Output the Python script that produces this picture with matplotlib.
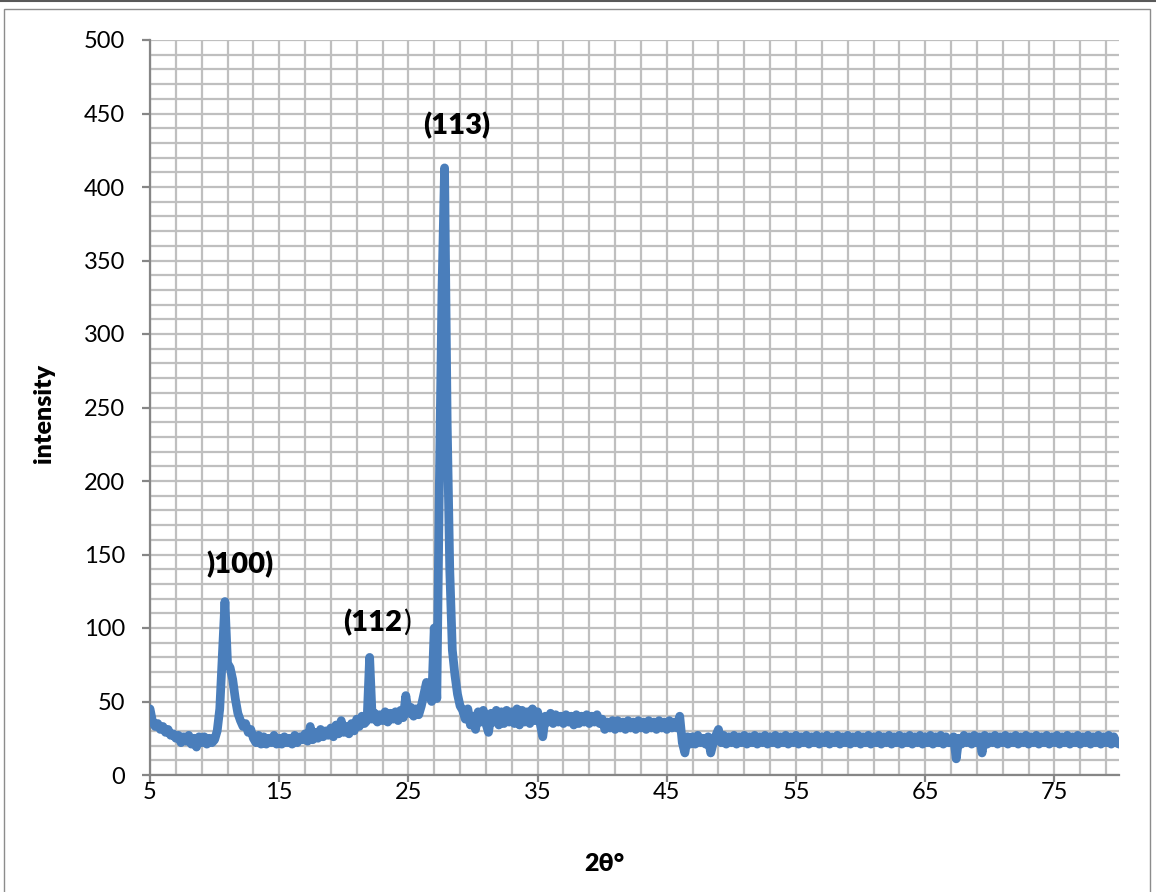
import numpy as np
import matplotlib
matplotlib.use("Agg")
import matplotlib.pyplot as plt
from matplotlib.patches import Rectangle

plt.rcParams['font.family'] = ['Lato', 'DejaVu Sans']

# scan from 5 to 80 deg, one reading every 0.2 deg
two_theta = np.round(np.arange(5.0, 80.0001, 0.2), 1)
intensity = [
    45, 36, 33, 35, 31, 33, 29, 31, 27, 28,        # 5
    25, 27, 22, 26, 23, 27, 21, 25, 19, 26,        # 7
    22, 26, 21, 25, 22, 24, 30, 45, 82, 118,       # 9
    76, 73, 65, 52, 42, 37, 33, 35, 29, 31,        # 11
    25, 22, 27, 21, 26, 21, 25, 22, 27, 21,        # 13
    25, 21, 26, 22, 25, 21, 27, 22, 26, 24,        # 15
    28, 23, 33, 24, 29, 25, 31, 26, 30, 27,        # 17
    32, 26, 34, 28, 37, 29, 33, 28, 35, 30,        # 19
    38, 33, 40, 35, 37, 80, 38, 42, 36, 41,        # 21
    37, 43, 36, 42, 38, 43, 37, 44, 39, 54,        # 23
    42, 46, 40, 45, 41, 47, 55, 63, 56, 50,        # 25
    100, 52, 200, 330, 413, 240, 140, 85, 68, 55,  # 27
    47, 44, 38, 45, 34, 40, 31, 43, 36, 44,        # 29
    35, 29, 42, 36, 44, 34, 43, 35, 44, 36,        # 31
    43, 35, 45, 34, 44, 36, 43, 35, 45, 37,        # 33
    43, 35, 26, 40, 36, 42, 35, 41, 36, 40,        # 35
    35, 41, 36, 40, 34, 41, 35, 40, 36, 41,        # 37
    35, 40, 36, 41, 35, 38, 31, 36, 32, 37,        # 39
    31, 37, 32, 36, 31, 37, 32, 36, 31, 37,        # 41
    32, 36, 31, 37, 32, 36, 31, 37, 32, 36,        # 43
    31, 37, 32, 36, 32, 40, 22, 15, 26, 21,        # 45
    26, 21, 27, 22, 25, 21, 26, 15, 22, 27,        # 47
    31, 22, 27, 21, 26, 22, 27, 21, 26, 22,        # 49
    27, 21, 26, 22, 27, 21, 26, 22, 27, 21,        # 51
    26, 22, 27, 21, 26, 22, 27, 21, 26, 22,        # 53
    27, 21, 26, 22, 27, 21, 26, 22, 27, 21,        # 55
    26, 22, 27, 21, 26, 22, 27, 21, 26, 22,        # 57
    27, 21, 26, 22, 27, 21, 26, 22, 27, 21,        # 59
    26, 22, 27, 21, 26, 22, 27, 21, 26, 22,        # 61
    27, 21, 26, 22, 27, 21, 26, 22, 27, 21,        # 63
    26, 22, 27, 21, 26, 22, 27, 21, 26, 22,        # 65
    22, 26, 11, 25, 21, 27, 22, 26, 21, 27,        # 67
    22, 26, 15, 27, 21, 26, 22, 27, 21, 26,        # 69
    22, 27, 21, 26, 22, 27, 21, 26, 22, 27,        # 71
    21, 26, 22, 27, 21, 26, 22, 27, 21, 26,        # 73
    22, 27, 21, 26, 22, 27, 21, 26, 22, 27,        # 75
    21, 26, 22, 27, 21, 26, 22, 27, 21, 26,        # 77
    22, 27, 21, 26, 22, 21,                        # 79
]

x_major = [5, 15, 25, 35, 45, 55, 65, 75]
y_major = list(range(0, 501, 50))

# peak labels: (text, x, y)
peak_labels = [(')100)', 12.0, 143), ('(113)', 28.75, 442)]

blue = '#4a7ebb'
grid_col = '#bfbfbf'
axis_col = '#868686'

fig = plt.figure(figsize=(11.56, 8.92), dpi=100)
ax = fig.add_axes([150 / 1156, 1 - 775 / 892, (1119 - 150) / 1156, 735 / 892])

ax.plot(two_theta, intensity, color=blue, lw=6.3,
        solid_joinstyle='round', solid_capstyle='round', zorder=3)

ax.set_xlim(5, 80)
ax.set_ylim(0, 500)
ax.set_xticks(x_major)
ax.set_xticks(np.arange(5, 80, 2), minor=True)
ax.set_yticks(y_major)
ax.set_yticks(np.arange(0, 501, 10), minor=True)
ax.grid(which='both', color=grid_col, lw=1.6, zorder=0)
ax.set_axisbelow(True)

for side in ['top', 'right']:
    ax.spines[side].set_visible(False)
for side in ['left', 'bottom']:
    ax.spines[side].set_color(axis_col)
    ax.spines[side].set_linewidth(1.6)

ax.tick_params(which='major', length=6, width=1.6, color=axis_col,
               labelsize=17)
ax.tick_params(axis='y', which='major', pad=12)
ax.tick_params(axis='x', which='major', length=5, pad=0)
ax.tick_params(which='minor', length=0)

for txt, x, y in peak_labels:
    ax.text(x, y, txt, ha='center', va='center', fontsize=21, fontweight='heavy')
ax.text(24.52, 104, '(112', ha='right', va='center', fontsize=21, fontweight='heavy')
ax.text(24.55, 104, ')', ha='left', va='center', fontsize=21)

fig.text(44 / 1156, 1 - 413 / 892, 'intensity', rotation=90, ha='center',
         va='center', fontsize=18, fontweight='heavy')
fig.text(604 / 1156, 1 - 864 / 892, '2θ°', ha='center', va='center',
         fontsize=18, fontweight='heavy')

# chart frame
fig.add_artist(Rectangle((4 / 1156, -0.01), 1146 / 1156, 1.01 - 9 / 892,
                         transform=fig.transFigure, fill=False,
                         edgecolor='#8c8c8c', lw=1))
fig.add_artist(plt.Line2D([0, 1], [0.999, 0.999], transform=fig.transFigure,
                          color='#595959', lw=1.5))

fig.savefig('out.png', dpi=100)
